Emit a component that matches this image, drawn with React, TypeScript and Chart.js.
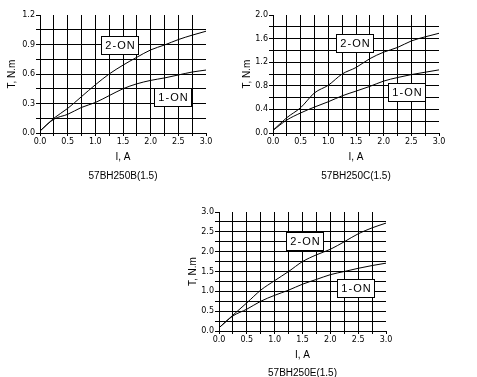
import React, { useEffect, useRef } from "react";
import { Chart, registerables } from "chart.js";

Chart.register(...registerables);

// ---- data ----
const currents = [0, 0.25, 0.5, 0.75, 1.0, 1.25, 1.5, 1.75, 2.0, 2.25, 2.5, 2.75, 3.0];

const torqueB2on = [0.02, 0.15, 0.25, 0.37, 0.49, 0.6, 0.69, 0.77, 0.845, 0.895, 0.95, 0.995, 1.035];
const torqueB1on = [0.02, 0.14, 0.19, 0.26, 0.31, 0.38, 0.45, 0.5, 0.535, 0.56, 0.59, 0.62, 0.64];

const torqueC2on = [0.045, 0.26, 0.43, 0.68, 0.81, 1.0, 1.11, 1.26, 1.37, 1.45, 1.56, 1.63, 1.69];
const torqueC1on = [0.045, 0.22, 0.34, 0.44, 0.53, 0.63, 0.71, 0.79, 0.88, 0.94, 0.99, 1.03, 1.07];

const torqueE2on = [0.08, 0.4, 0.71, 1.03, 1.27, 1.5, 1.75, 1.92, 2.06, 2.25, 2.45, 2.6, 2.72];
const torqueE1on = [0.08, 0.38, 0.55, 0.75, 0.9, 1.03, 1.18, 1.3, 1.42, 1.5, 1.58, 1.65, 1.71];

const captions = ["57BH250B(1.5)", "57BH250C(1.5)", "57BH250E(1.5)"];
const seriesNames = ["2-ON", "1-ON"];
const xTitle = "I, A";
const yTitle = "T, N.m";

const xMax = 3.0;
const xStep = 0.25;
const yMaxes = [1.2, 2.0, 3.0];
const ySteps = [0.15, 0.2, 0.25];

// ---- layout / style ----
type Spec = {
  caption: string;
  s2: number[];
  s1: number[];
  yMax: number;
  yStep: number;
  label2: { x: number; y: number };
  label1: { x: number; y: number };
  left: number;
  top: number;
  w: number;
  h: number;
  yAxisW: number;
  yTitlePad: number;
  padTop: number;
  padRight: number;
  xAxisH: number;
  xTitlePadBottom: number;
  xTitleLH: number;
};

const specs: Spec[] = [
  {
    caption: captions[0], s2: torqueB2on, s1: torqueB1on, yMax: yMaxes[0], yStep: ySteps[0],
    label2: { x: 1.44, y: 0.895 }, label1: { x: 2.4, y: 0.37 },
    left: 0, top: 0, w: 225, h: 192, yAxisW: 40, yTitlePad: 6, padTop: 15, padRight: 19, xAxisH: 59, xTitlePadBottom: 6, xTitleLH: 1.9,
  },
  {
    caption: captions[1], s2: torqueC2on, s1: torqueC1on, yMax: yMaxes[1], yStep: ySteps[1],
    label2: { x: 1.48, y: 1.53 }, label1: { x: 2.42, y: 0.69 },
    left: 235, top: 0, w: 225, h: 192, yAxisW: 38, yTitlePad: 6, padTop: 15, padRight: 21, xAxisH: 59, xTitlePadBottom: 6, xTitleLH: 1.9,
  },
  {
    caption: captions[2], s2: torqueE2on, s1: torqueE1on, yMax: yMaxes[2], yStep: ySteps[2],
    label2: { x: 1.53, y: 2.27 }, label1: { x: 2.46, y: 1.09 },
    left: 180, top: 197, w: 225, h: 190, yAxisW: 39, yTitlePad: 7, padTop: 15, padRight: 19, xAxisH: 56, xTitlePadBottom: 5, xTitleLH: 1.8,
  },
];

const boxLabelPlugin = {
  id: "boxLabels",
  afterDatasetsDraw(chart: any, _args: any, opts: any) {
    const { ctx } = chart;
    const xs = chart.scales.x;
    const ys = chart.scales.y;
    const items = (opts && opts.items) || [];
    for (const it of items) {
      const cx = xs.getPixelForValue(it.x);
      const cy = ys.getPixelForValue(it.y);
      const w = 37;
      const h = 18;
      const bx = Math.round(cx - w / 2) + 0.5;
      const by = Math.round(cy - h / 2) + 0.5;
      ctx.save();
      ctx.fillStyle = "#fff";
      ctx.fillRect(bx, by, w, h);
      ctx.strokeStyle = "#000";
      ctx.lineWidth = 1;
      ctx.strokeRect(bx, by, w, h);
      ctx.fillStyle = "#000";
      ctx.font = '11px "Liberation Sans", Arial, sans-serif';
      try { (ctx as any).letterSpacing = "1px"; } catch (e) {}
      ctx.textAlign = "center";
      ctx.textBaseline = "middle";
      ctx.fillText(it.text, bx + w / 2 + 0.5, by + h / 2 + 0.5);
      ctx.restore();
    }
  },
};

function TorqueChart({ spec }: { spec: Spec }) {
  const ref = useRef<HTMLCanvasElement | null>(null);
  useEffect(() => {
    if (!ref.current) return;
    const tickFont = { family: '"DejaVu Sans", sans-serif', size: 8 };
    const titleFamily = '"Liberation Sans", Arial, sans-serif';
    const chart = new Chart(ref.current, {
      type: "line",
      data: {
        datasets: [
          {
            label: seriesNames[0],
            data: currents.map((x, i) => ({ x, y: spec.s2[i] })),
            borderColor: "#000",
            borderWidth: 1,
            pointRadius: 0,
            fill: false,
            cubicInterpolationMode: "monotone",
          },
          {
            label: seriesNames[1],
            data: currents.map((x, i) => ({ x, y: spec.s1[i] })),
            borderColor: "#000",
            borderWidth: 1,
            pointRadius: 0,
            fill: false,
            cubicInterpolationMode: "monotone",
          },
        ],
      },
      options: {
        animation: false,
        responsive: false,
        devicePixelRatio: 1,
        layout: { padding: { top: spec.padTop, right: spec.padRight, left: 0, bottom: 0 } },
        plugins: {
          legend: { display: false },
          tooltip: { enabled: false },
          boxLabels: {
            items: [
              { text: seriesNames[0], x: spec.label2.x, y: spec.label2.y },
              { text: seriesNames[1], x: spec.label1.x, y: spec.label1.y },
            ],
          },
        } as any,
        scales: {
          x: {
            type: "linear",
            min: 0,
            max: xMax,
            ticks: {
              stepSize: xStep,
              autoSkip: false,
              maxRotation: 0,
              padding: 1,
              color: "#000",
              font: tickFont,
              callback: (v: any) => (Math.round(Number(v) / xStep) % 2 === 0 ? Number(v).toFixed(1) : ""),
            },
            grid: {
              color: (c: any) => (c.tick && Math.abs(c.tick.value - xMax) < 1e-6 ? "rgba(0,0,0,0)" : "#000"),
              tickColor: "#000",
              tickLength: 3,
              lineWidth: 1,
            },
            border: { display: true, color: "#000", width: 1 },
            title: {
              display: true,
              text: [xTitle, spec.caption],
              color: "#000",
              font: { family: titleFamily, size: 10, lineHeight: spec.xTitleLH },
              padding: { top: 0, bottom: spec.xTitlePadBottom },
            },
            afterFit: (s: any) => {
              s.height = spec.xAxisH;
            },
          },
          y: {
            type: "linear",
            min: 0,
            max: spec.yMax,
            ticks: {
              stepSize: spec.yStep,
              autoSkip: false,
              padding: 1,
              color: "#000",
              font: tickFont,
              callback: (v: any) => (Math.round(Number(v) / spec.yStep) % 2 === 0 ? Number(v).toFixed(1) : ""),
            },
            grid: {
              color: (c: any) => (c.tick && Math.abs(c.tick.value - spec.yMax) < 1e-6 ? "rgba(0,0,0,0)" : "#000"),
              tickColor: "#000",
              tickLength: 4,
              lineWidth: 1,
            },
            border: { display: true, color: "#000", width: 1 },
            title: {
              display: true,
              text: yTitle,
              color: "#000",
              font: { family: titleFamily, size: 10, lineHeight: 1.2 },
              padding: { top: spec.yTitlePad, bottom: 0 },
            },
            afterFit: (s: any) => {
              s.width = spec.yAxisW;
            },
          },
        },
      } as any,
      plugins: [boxLabelPlugin as any],
    });
    return () => chart.destroy();
  }, [spec]);

  return (
    <div style={{ position: "absolute", left: spec.left, top: spec.top, width: spec.w, height: spec.h }}>
      <canvas ref={ref} width={spec.w} height={spec.h} style={{ width: spec.w, height: spec.h, display: "block" }} />
    </div>
  );
}

export default function App() {
  return (
    <div
      style={{
        position: "fixed",
        left: 0,
        top: 0,
        width: 477,
        height: 377,
        overflow: "hidden",
        background: "#fff",
      }}
    >
      {specs.map((s, i) => (
        <TorqueChart key={i} spec={s} />
      ))}
    </div>
  );
}
